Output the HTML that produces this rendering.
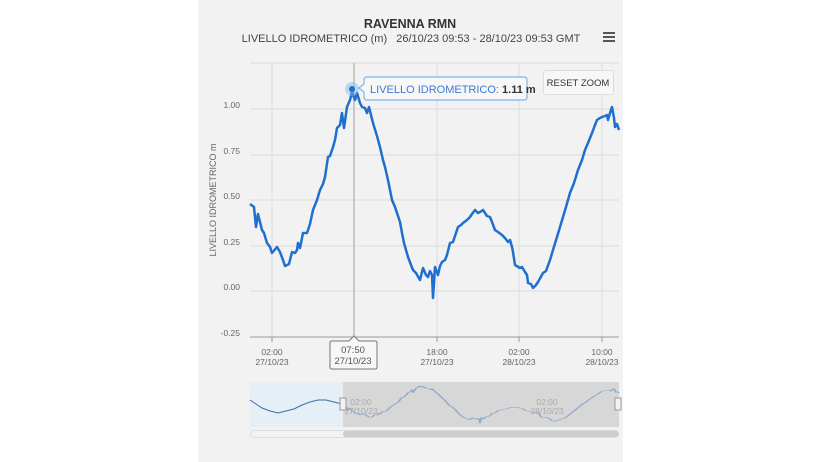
<!DOCTYPE html>
<html><head><meta charset="utf-8"><style>
html,body{margin:0;padding:0;background:#fff;}
body{width:821px;height:462px;position:relative;overflow:hidden;font-family:"Liberation Sans",sans-serif;}
</style></head><body>
<svg width="821" height="462" style="position:absolute;left:0;top:0" font-family="Liberation Sans, sans-serif">
<rect x="198" y="0" width="425" height="462" fill="#f2f2f2"/>
<text x="410" y="28" text-anchor="middle" font-size="12.5" font-weight="bold" fill="#333">RAVENNA RMN</text>
<text x="411" y="42" text-anchor="middle" font-size="11" fill="#444" xml:space="preserve">LIVELLO IDROMETRICO (m)   26/10/23 09:53 - 28/10/23 09:53 GMT</text>
<g fill="#555"><rect x="603" y="32" width="12" height="2"/><rect x="603" y="36" width="12" height="2"/><rect x="603" y="40" width="12" height="2"/></g>
<g stroke="#dcdcdc" stroke-width="1">
<line x1="250" y1="63" x2="619" y2="63"/>
<line x1="250" y1="109" x2="619" y2="109"/>
<line x1="250" y1="155" x2="619" y2="155"/>
<line x1="250" y1="200" x2="619" y2="200"/>
<line x1="250" y1="246" x2="619" y2="246"/>
<line x1="250" y1="291" x2="619" y2="291"/>
<line x1="272" y1="63" x2="272" y2="337"/>
<line x1="437" y1="63" x2="437" y2="337"/>
<line x1="519" y1="63" x2="519" y2="337"/>
<line x1="602" y1="63" x2="602" y2="337"/>
</g>
<line x1="250" y1="337" x2="619" y2="337" stroke="#999"/>
<g stroke="#999"><line x1="272" y1="337" x2="272" y2="342"/><line x1="437" y1="337" x2="437" y2="342"/><line x1="519" y1="337" x2="519" y2="342"/><line x1="602" y1="337" x2="602" y2="342"/></g>
<line x1="354" y1="63" x2="354" y2="337" stroke="#c8c8c8" stroke-width="2"/>
<g font-size="8.5" fill="#666" text-anchor="end">
<text x="240" y="108">1.00</text><text x="240" y="154">0.75</text><text x="240" y="199">0.50</text>
<text x="240" y="245">0.25</text><text x="240" y="290">0.00</text><text x="240" y="336">-0.25</text></g>
<text transform="translate(216,200) rotate(-90)" text-anchor="middle" font-size="9" fill="#666">LIVELLO IDROMETRICO m</text>
<g font-size="8.5" fill="#666" text-anchor="middle">
<text x="272" y="355">02:00</text><text x="272" y="365">27/10/23</text>
<text x="437" y="355">18:00</text><text x="437" y="365">27/10/23</text>
<text x="519" y="355">02:00</text><text x="519" y="365">28/10/23</text>
<text x="602" y="355">10:00</text><text x="602" y="365">28/10/23</text></g>
<polyline id="d" fill="none" stroke="#1f6fcf" stroke-width="2.5" stroke-linejoin="round" points="250,204 254,207 256,227 258,214 262,230 264,233 267,243 270,247 272,253 277,247 280,252 283,260 285,266 289,264 292,252 295,253 297,250 298,243 300,248 303,233 307,233 310,224 313,210 317,200 320,190 323,184 325,177 328,157 330,156 333,147 335,140 337,128 340,125 342,113 344,128 347,107 350,100 352,92 355,100 357,93 360,103 362,107 365,108 367,113 369,107 371,115 373,123 377,136 380,147 383,160 385,167 388,180 392,200 395,207 397,213 400,222 402,233 404,243 408,257 411,265 413,270 416,273 420,280 423,268 426,275 428,277 430,271 432,275 433,298 435,267 438,275 440,266 442,262 445,260 447,255 450,243 453,242 455,236 458,227 461,225 463,223 467,220 470,217 472,214 475,210 478,213 480,212 483,210 485,213 487,216 490,217 492,222 495,230 498,232 502,235 505,238 508,242 510,240 512,247 513,252 515,265 520,268 522,267 525,272 527,275 528,283 531,284 533,288 536,285 538,282 543,273 546,271 550,260 553,250 557,237 563,217 566,207 570,193 574,183 578,170 582,160 585,150 588,143 592,133 595,125 597,120 600,118 602,117 605,116 607,115 608,120 610,113 612,107 614,118 615,127 617,124 619,130"/>
<circle cx="352" cy="89" r="7" fill="#7cb5ec" opacity="0.45"/>
<circle cx="352" cy="89" r="3" fill="#1f6fcf"/>
<path d="M367,77 H524 Q527,77 527,80 V97 Q527,100 524,100 H367 Q364,100 364,97 V92 L359,88 L364,84 V80 Q364,77 367,77Z" fill="#f7f7f7" stroke="#7cb5ec" stroke-width="1.2"/>
<text x="370" y="93" font-size="11" fill="#3a7bd5">LIVELLO IDROMETRICO: <tspan fill="#333" font-weight="bold">1.11 m</tspan></text>
<rect x="543.5" y="70.5" width="70" height="24" rx="2" fill="#f7f7f7" stroke="#ddd"/>
<text x="578" y="86" text-anchor="middle" font-size="9.5" fill="#333">RESET ZOOM</text>
<path d="M332,341 H349 L354,336 L359,341 H375 Q377,341 377,343 V367 Q377,369 375,369 H332 Q330,369 330,367 V343 Q330,341 332,341Z" fill="#f7f7f7" stroke="#777"/>
<text x="353" y="353" text-anchor="middle" font-size="9.5" fill="#555">07:50</text>
<text x="353" y="364" text-anchor="middle" font-size="9.5" fill="#555">27/10/23</text>
<rect x="250" y="382" width="93" height="45" fill="#e6eef6"/>
<polyline fill="none" stroke="#3c6fa8" stroke-width="1" points="250,400 256,404 262,408 270,411 278,413 286,411 294,409 302,405 310,402 318,400 326,400 334,402 342,404"/>
<g transform="translate(343,386) scale(0.748,0.18) translate(-250,-92)"><use href="#d" stroke="#6f9fd8" style="stroke-width:5"/></g>
<rect x="343" y="382" width="276" height="45" fill="#c8c8c8" opacity="0.65"/>
<g font-size="8.5" fill="#aaa" text-anchor="middle"><text x="361" y="405">02:00</text><text x="361" y="414">27/10/23</text><text x="547" y="405">02:00</text><text x="547" y="414">28/10/23</text></g>
<rect x="340" y="398" width="6" height="12" fill="#f2f2f2" stroke="#999"/>
<rect x="615" y="398" width="6" height="12" fill="#f2f2f2" stroke="#999"/>
<rect x="250.5" y="430.5" width="368" height="7" rx="3.5" fill="#f2f2f2" stroke="#ddd"/>
<rect x="343" y="431" width="276" height="6" rx="3" fill="#cdcdcd"/>
</svg>
</body></html>
